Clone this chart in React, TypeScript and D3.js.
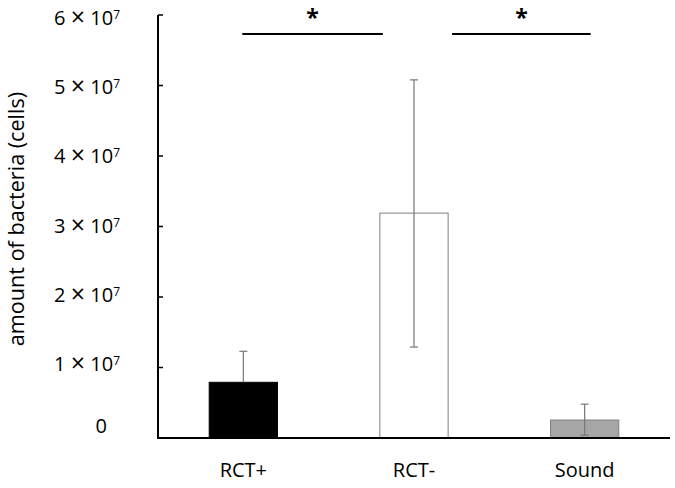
import React, { useEffect, useRef } from 'react';
import * as d3 from 'd3';

const categories = ['RCT+', 'RCT-', 'Sound'];
const means = [7.9e6, 3.19e7, 2.55e6];
const errLow = [7.9e6, 1.29e7, 0.4e6];
const errHigh = [1.23e7, 5.08e7, 4.8e6];
const fills = ['#000000', '#ffffff', '#a6a6a6'];
const strokes = ['#000000', '#7f7f7f', '#7f7f7f'];
const yTicks = [0, 1e7, 2e7, 3e7, 4e7, 5e7, 6e7];
// significance brackets: from category to category
const sigPairs = [
  ['RCT+', 'RCT-'],
  ['RCT-', 'Sound'],
];

const W = 675;
const H = 488;
const FONT = '"Open Sans", sans-serif';

const App = () => {
  const ref = useRef<SVGSVGElement | null>(null);

  useEffect(() => {
    const svg = d3.select(ref.current);
    svg.selectAll('*').remove();

    const x = d3
      .scaleBand()
      .domain(categories)
      .range([158, 670])
      .paddingInner(0.6)
      .paddingOuter(0.3);

    const y = d3.scaleLinear().domain([0, 6e7]).range([438, 15]);
    // label baselines drift a little from the tick marks (as in the original)
    const yLabel = d3.scaleLinear().domain([1e7, 6e7]).range([371, 25]);

    const g = svg.append('g');

    // bars
    g.selectAll('rect.bar')
      .data(categories)
      .enter()
      .append('rect')
      .attr('x', (d) => x(d)!)
      .attr('y', (_, i) => y(means[i]))
      .attr('width', x.bandwidth())
      .attr('height', (_, i) => y(0) - y(means[i]))
      .attr('fill', (_, i) => fills[i])
      .attr('stroke', (_, i) => strokes[i])
      .attr('stroke-width', 1);

    // error bars
    const eb = g
      .selectAll('g.err')
      .data(categories)
      .enter()
      .append('g')
      .attr('stroke', '#767676')
      .attr('stroke-width', 1.2);
    const cx = (d: string) => x(d)! + x.bandwidth() / 2;
    eb.append('line')
      .attr('x1', cx)
      .attr('x2', cx)
      .attr('y1', (_, i) => y(errLow[i]))
      .attr('y2', (_, i) => y(errHigh[i]));
    eb.append('line')
      .attr('x1', (d) => cx(d) - 4)
      .attr('x2', (d) => cx(d) + 4)
      .attr('y1', (_, i) => y(errHigh[i]))
      .attr('y2', (_, i) => y(errHigh[i]));
    eb.filter((_, i) => errLow[i] !== means[i])
      .append('line')
      .attr('x1', (d) => cx(d) - 4)
      .attr('x2', (d) => cx(d) + 4)
      .attr('y1', (d) => y(errLow[categories.indexOf(d)]))
      .attr('y2', (d) => y(errLow[categories.indexOf(d)]));

    // axes
    g.append('line')
      .attr('x1', 158)
      .attr('x2', 158)
      .attr('y1', y(6e7))
      .attr('y2', y(0))
      .attr('stroke', '#000')
      .attr('stroke-width', 2);
    g.append('line')
      .attr('x1', 157)
      .attr('x2', 670)
      .attr('y1', y(0))
      .attr('y2', y(0))
      .attr('stroke', '#000')
      .attr('stroke-width', 2);

    // ticks pointing inward
    g.selectAll('line.tick')
      .data(yTicks)
      .enter()
      .append('line')
      .attr('x1', 158)
      .attr('x2', 163)
      .attr('y1', (d) => y(d))
      .attr('y2', (d) => y(d))
      .attr('stroke', '#000')
      .attr('stroke-width', 1.5);

    // tick labels
    const tl = g
      .selectAll('text.ytick')
      .data(yTicks)
      .enter()
      .append('text')
      .attr('x', (d) => (d === 0 ? 107 : 120))
      .attr('y', (d) => (d === 0 ? y(0) - 5 : yLabel(d)))
      .attr('text-anchor', 'end')
      .attr('font-family', FONT)
      .attr('font-size', 20)
      .attr('fill', '#000');
    tl.filter((d) => d === 0).text('0');
    const nz = tl.filter((d) => d !== 0);
    nz.append('tspan').text((d) => `${d / 1e7} `);
    nz.append('tspan').attr('font-size', 25).attr('dy', 1).text('×');
    nz.append('tspan').attr('dy', -1).text(' 10');
    nz.append('tspan')
      .attr('dy', -6)
      .attr('font-size', 12)
      .text('7');

    // y title
    g.append('text')
      .attr('transform', 'translate(24, 219) rotate(-90)')
      .attr('text-anchor', 'middle')
      .attr('font-family', FONT)
      .attr('font-size', 21.6)
      .text('amount of bacteria (cells)');

    // category labels
    g.selectAll('text.cat')
      .data(categories)
      .enter()
      .append('text')
      .attr('x', cx)
      .attr('y', 477)
      .attr('text-anchor', 'middle')
      .attr('font-family', FONT)
      .attr('font-size', 20)
      .text((d) => d);

    // significance lines
    const sigY = 34;
    const spans = [
      [cx(sigPairs[0][0]) - 1, x(sigPairs[0][1])! + 3],
      [x(sigPairs[1][0])! + x.bandwidth() + 4, cx(sigPairs[1][1]) + 6],
    ];
    spans.forEach(([a, b]) => {
      g.append('line')
        .attr('x1', a)
        .attr('x2', b)
        .attr('y1', sigY)
        .attr('y2', sigY)
        .attr('stroke', '#000')
        .attr('stroke-width', 2);
      g.append('text')
        .attr('x', (a + b) / 2)
        .attr('y', 26)
        .attr('text-anchor', 'middle')
        .attr('font-family', FONT)
        .attr('font-weight', 'bold')
        .attr('font-size', 23)
        .text('*');
    });
  }, []);

  return (
    <svg
      ref={ref}
      width={W}
      height={H}
      style={{ position: 'absolute', left: 0, top: 0, background: '#fff' }}
    />
  );
};

export default App;
